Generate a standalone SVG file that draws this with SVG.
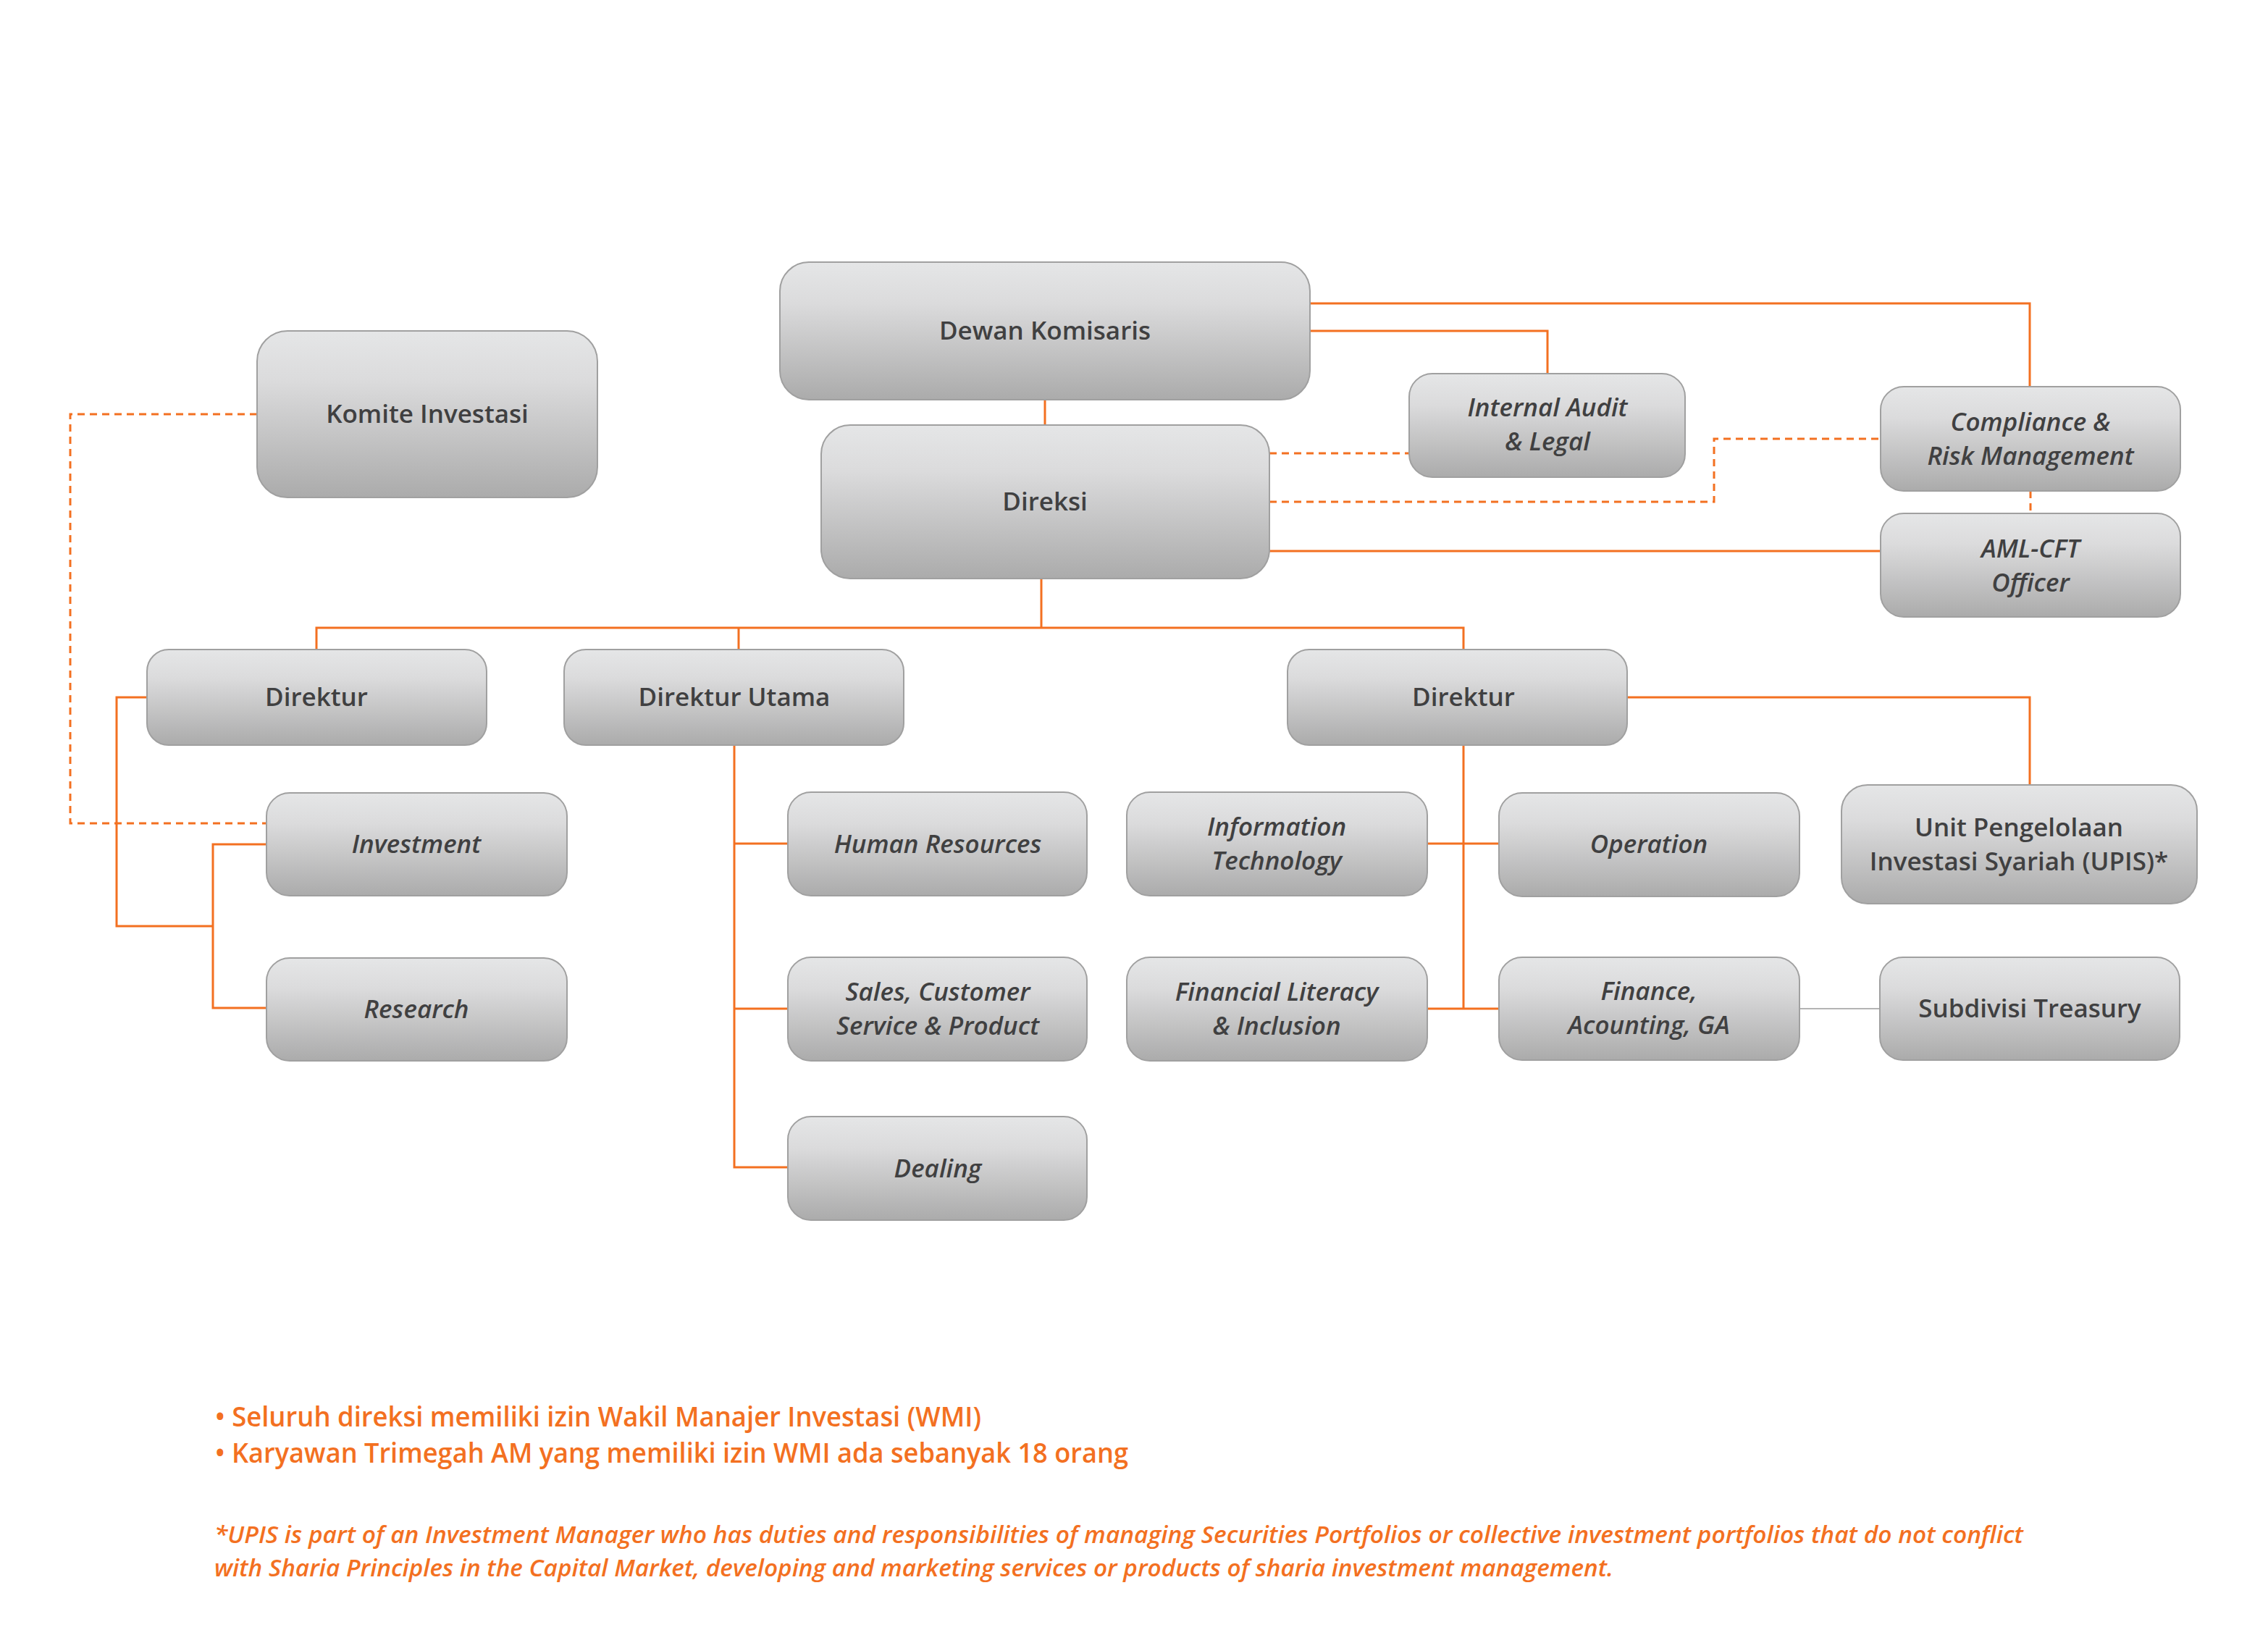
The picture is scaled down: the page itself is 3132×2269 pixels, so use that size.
<svg xmlns="http://www.w3.org/2000/svg" width="3132" height="2269" viewBox="0 0 3132 2269">
<defs>
<linearGradient id="boxGrad" x1="0" y1="0" x2="0" y2="1">
<stop offset="0" stop-color="#E5E6E7"/>
<stop offset="0.3" stop-color="#DBDBDC"/>
<stop offset="1" stop-color="#ABABAB"/>
</linearGradient>
</defs>
<style>
.box{fill:url(#boxGrad);stroke:#A0A0A0;stroke-width:2}
.lbl{font-family:"Open Sans","Noto Sans","Liberation Sans",sans-serif;font-size:35px;font-weight:600;fill:#404041;text-anchor:middle}
.it{font-style:italic;font-weight:600}
.ln{fill:none;stroke:#F37021;stroke-width:3}
.dash{fill:none;stroke:#F37021;stroke-width:3;stroke-dasharray:10 7}
.gray{fill:none;stroke:#B4B4B4;stroke-width:2}
.note{font-family:"Open Sans","Noto Sans","Liberation Sans",sans-serif;font-size:37px;font-weight:600;fill:#F37021}
.fn{font-family:"Open Sans","Noto Sans","Liberation Sans",sans-serif;font-size:33px;font-weight:600;font-style:italic;fill:#F37021}
</style>
<rect width="3132" height="2269" fill="#FFFFFF"/>
<g id="connectors">
<path class="ln" d="M1443 552V587"/>
<path class="ln" d="M1809 419H2803V534"/>
<path class="ln" d="M1809 457H2137V516"/>
<path class="dash" d="M1753 626H1946"/>
<path class="dash" d="M1753 693H2367V606H2597"/>
<path class="dash" d="M2804 678V709"/>
<path class="ln" d="M1753 761H2597"/>
<path class="ln" d="M1438 799V867"/>
<path class="ln" d="M437 897V867H2021V897"/>
<path class="ln" d="M1020 867V897"/>
<path class="dash" d="M355 572H97V1137H368"/>
<path class="ln" d="M203 963H161V1279H294"/>
<path class="ln" d="M368 1166H294V1392H368"/>
<path class="ln" d="M1014 1029V1612H1088"/>
<path class="ln" d="M1014 1165H1088"/>
<path class="ln" d="M1014 1393H1088"/>
<path class="ln" d="M2021 1029V1393"/>
<path class="ln" d="M1971 1165H2070"/>
<path class="ln" d="M1971 1393H2070"/>
<path class="ln" d="M2247 963H2803V1084"/>
<path class="gray" d="M2485 1393H2596"/>
</g>
<g id="komite-investasi">
<rect class="box" x="355" y="457" width="470" height="230" rx="42"/>
<text class="lbl" x="590" y="584">Komite Investasi</text>
</g>
<g id="dewan-komisaris">
<rect class="box" x="1077" y="362" width="732" height="190" rx="40"/>
<text class="lbl" x="1443" y="469">Dewan Komisaris</text>
</g>
<g id="direksi">
<rect class="box" x="1134" y="587" width="619" height="212" rx="40"/>
<text class="lbl" x="1443" y="705">Direksi</text>
</g>
<g id="internal-audit">
<rect class="box" x="1946" y="516" width="381" height="143" rx="32"/>
<text class="lbl it" x="2137" y="575">Internal Audit</text>
<text class="lbl it" x="2137" y="622">&amp; Legal</text>
</g>
<g id="compliance">
<rect class="box" x="2597" y="534" width="414" height="144" rx="32"/>
<text class="lbl it" x="2804" y="595">Compliance &amp;</text>
<text class="lbl it" x="2804" y="642">Risk Management</text>
</g>
<g id="aml-cft">
<rect class="box" x="2597" y="709" width="414" height="143" rx="32"/>
<text class="lbl it" x="2804" y="770">AML-CFT</text>
<text class="lbl it" x="2804" y="817">Officer</text>
</g>
<g id="direktur-kiri">
<rect class="box" x="203" y="897" width="469" height="132" rx="30"/>
<text class="lbl" x="437" y="975">Direktur</text>
</g>
<g id="direktur-utama">
<rect class="box" x="779" y="897" width="469" height="132" rx="30"/>
<text class="lbl" x="1014" y="975">Direktur Utama</text>
</g>
<g id="direktur-kanan">
<rect class="box" x="1778" y="897" width="469" height="132" rx="30"/>
<text class="lbl" x="2021" y="975">Direktur</text>
</g>
<g id="investment">
<rect class="box" x="368" y="1095" width="415" height="142" rx="32"/>
<text class="lbl it" x="575" y="1178">Investment</text>
</g>
<g id="research">
<rect class="box" x="368" y="1323" width="415" height="142" rx="32"/>
<text class="lbl it" x="575" y="1406">Research</text>
</g>
<g id="human-resources">
<rect class="box" x="1088" y="1094" width="413" height="143" rx="32"/>
<text class="lbl it" x="1295" y="1178">Human Resources</text>
</g>
<g id="sales">
<rect class="box" x="1088" y="1322" width="413" height="143" rx="32"/>
<text class="lbl it" x="1295" y="1382">Sales, Customer</text>
<text class="lbl it" x="1295" y="1429">Service &amp; Product</text>
</g>
<g id="dealing">
<rect class="box" x="1088" y="1542" width="413" height="143" rx="32"/>
<text class="lbl it" x="1295" y="1626">Dealing</text>
</g>
<g id="information-technology">
<rect class="box" x="1556" y="1094" width="415" height="143" rx="32"/>
<text class="lbl it" x="1763" y="1154">Information</text>
<text class="lbl it" x="1763" y="1201">Technology</text>
</g>
<g id="financial-literacy">
<rect class="box" x="1556" y="1322" width="415" height="143" rx="32"/>
<text class="lbl it" x="1763" y="1382">Financial Literacy</text>
<text class="lbl it" x="1763" y="1429">&amp; Inclusion</text>
</g>
<g id="operation">
<rect class="box" x="2070" y="1095" width="415" height="143" rx="32"/>
<text class="lbl it" x="2277" y="1178">Operation</text>
</g>
<g id="finance">
<rect class="box" x="2070" y="1322" width="415" height="142" rx="32"/>
<text class="lbl it" x="2277" y="1381">Finance,</text>
<text class="lbl it" x="2277" y="1428">Acounting, GA</text>
</g>
<g id="upis">
<rect class="box" x="2543" y="1084" width="491" height="164" rx="36"/>
<text class="lbl" x="2788" y="1155">Unit Pengelolaan</text>
<text class="lbl" x="2788" y="1202">Investasi Syariah (UPIS)*</text>
</g>
<g id="subdivisi-treasury">
<rect class="box" x="2596" y="1322" width="414" height="142" rx="32"/>
<text class="lbl" x="2803" y="1405">Subdivisi Treasury</text>
</g>
<g id="notes">
<text class="note" x="297" y="1970" textLength="1058" lengthAdjust="spacingAndGlyphs">• Seluruh direksi memiliki izin Wakil Manajer Investasi (WMI)</text>
<text class="note" x="297" y="2020" textLength="1261" lengthAdjust="spacingAndGlyphs">• Karyawan Trimegah AM yang memiliki izin WMI ada sebanyak 18 orang</text>
<text class="fn" x="296" y="2131" textLength="2498" lengthAdjust="spacingAndGlyphs">*UPIS is part of an Investment Manager who has duties and responsibilities of managing Securities Portfolios or collective investment portfolios that do not conflict</text>
<text class="fn" x="296" y="2177" textLength="1932" lengthAdjust="spacingAndGlyphs">with Sharia Principles in the Capital Market, developing and marketing services or products of sharia investment management.</text>
</g>
</svg>
